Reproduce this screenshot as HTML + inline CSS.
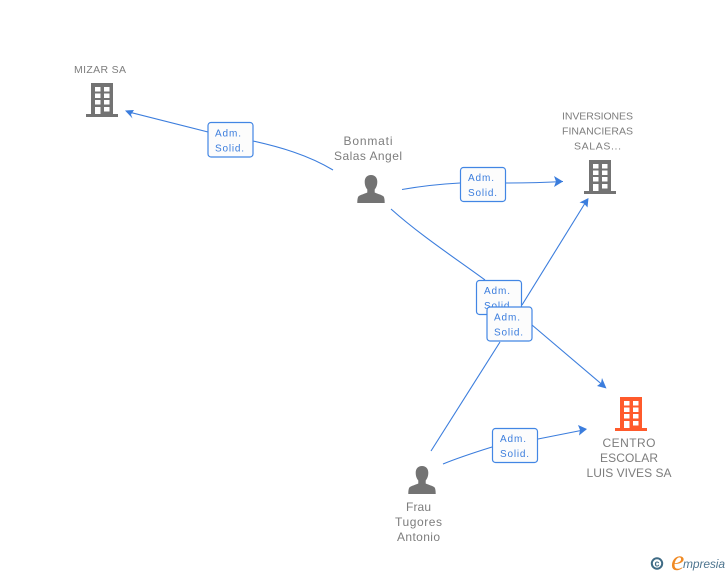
<!DOCTYPE html>
<html>
<head>
<meta charset="utf-8">
<style>
html,body{margin:0;padding:0;background:#fff}
svg{display:block}
text{font-family:"Liberation Sans",sans-serif}
.n{font-size:12px;fill:#7d7d7d;text-anchor:middle}
.s{font-size:10.5px;fill:#7d7d7d;text-anchor:middle}
.l{font-size:10px;fill:#3b7ddd}
.c{fill:none;stroke:#3b7ddd;stroke-width:1.1}
.b{fill:#fcfcfc;stroke:#4286e4;stroke-width:1.2}
</style>
</head>
<body>
<svg width="728" height="575" viewBox="0 0 728 575" xmlns="http://www.w3.org/2000/svg">
<defs>
<symbol id="bw" overflow="visible" viewBox="0 0 32 35" width="32" height="35">
<path fill="#fff" d="M9 4h5.500v4.500H9zM18 4h5.500v4.500H18zM9 10.500h5.500v4.500H9zM18 10.500h5.500v4.500H18zM9 17h5.500v4.500H9zM18 17h5.500v4.500H18zM18 24h5.500v4.500H18zM9 24h5.500v7H9z"/>
</symbol>
<symbol id="person" overflow="visible" viewBox="0 0 28 28" width="28" height="28">
<path fill="#737373" d="M14 0c4 0 6.300 2.700 6.300 6.800 0 3.300-1.100 6-2.600 7.700v3c2.700 1.300 7 2.300 8.700 3.800 1.100 1.100 1.300 4.200 1.300 6.700H.3c0-2.500.2-5.600 1.300-6.700 1.700-1.500 6-2.500 8.700-3.800v-3C8.800 12.800 7.700 10.100 7.700 6.800 7.700 2.700 10 0 14 0z"/>
</symbol>
</defs>

<!-- connectors -->
<path class="c" d="M333 170C308 155 280 147 253 141"/>
<path class="c" d="M208 132L127 111.500"/>
<path class="c" d="M402 189.500C422 186 441 184 460 183"/>
<path class="c" d="M506 183C525 183 545 182.500 563 181.500"/>
<path class="c" d="M391 209C420 235 455 258 485 280"/>
<path class="c" d="M532 325L605 387"/>
<path class="c" d="M431 451L500 342"/>
<path class="c" d="M522 305L587 200"/>
<path class="c" d="M443 464C460 457 476 452 492 447"/>
<path class="c" d="M538 439L586 429.500"/>

<!-- arrowheads -->
<path fill="#3b7ddd" d="M125 110.500L134 110L131 114.500L132.500 118.500z"/>
<path fill="#3b7ddd" d="M563 181.500L554 176L556 181.500L554 187z"/>
<path fill="#3b7ddd" d="M588.500 198L587.500 207.500L584 203.500L579.500 202.500z"/>
<path fill="#3b7ddd" d="M606.500 388.500L597 386L601 383L602 378z"/>
<path fill="#3b7ddd" d="M587 429L578 425L580 430L579 435.500z"/>

<!-- label boxes -->
<rect class="b" x="208" y="122.500" width="45" height="34.500" rx="3"/>
<text class="l" x="215" y="136.500" textLength="26">Adm.</text>
<text class="l" x="215" y="151.500" textLength="29">Solid.</text>

<rect class="b" x="460.500" y="167.500" width="45" height="34" rx="3"/>
<text class="l" x="468" y="181" textLength="26">Adm.</text>
<text class="l" x="468" y="196" textLength="29">Solid.</text>

<rect class="b" x="476.500" y="280.500" width="45" height="34" rx="3"/>
<text class="l" x="484" y="294" textLength="26">Adm.</text>
<text class="l" x="484" y="309" textLength="29">Solid.</text>

<rect class="b" x="487" y="307" width="45" height="34" rx="3"/>
<text class="l" x="494" y="320.500" textLength="26">Adm.</text>
<text class="l" x="494" y="335.500" textLength="29">Solid.</text>

<rect class="b" x="492.500" y="428.500" width="45" height="34" rx="3"/>
<text class="l" x="500" y="442" textLength="26">Adm.</text>
<text class="l" x="500" y="457" textLength="29">Solid.</text>

<!-- MIZAR SA -->
<text class="s" x="100" y="73" textLength="52">MIZAR SA</text>
<path fill="#737373" d="M91 83h22v31h5v3H86v-3h5z"/>
<use href="#bw" x="86" y="83"/>

<!-- INVERSIONES -->
<text class="s" x="597.500" y="119.500" textLength="71">INVERSIONES</text>
<text class="s" x="597.500" y="134.500" textLength="71">FINANCIERAS</text>
<text class="s" x="597.500" y="149.500" textLength="47">SALAS...</text>
<path fill="#737373" d="M589 160h22v31h5v3H584v-3h5z"/>
<use href="#bw" x="584" y="160"/>

<!-- CENTRO -->
<path fill="#ff5a2b" d="M620 397h22v31h5v3H615v-3h5z"/>
<use href="#bw" x="615" y="397"/>
<text class="n" x="629" y="447" textLength="53">CENTRO</text>
<text class="n" x="629" y="462" textLength="58">ESCOLAR</text>
<text class="n" x="629" y="477" textLength="85">LUIS VIVES SA</text>

<!-- Bonmati -->
<text class="n" x="368" y="145" textLength="49">Bonmati</text>
<text class="n" x="368" y="160" textLength="68">Salas Angel</text>
<use href="#person" x="357" y="175"/>

<!-- Frau -->
<use href="#person" x="408" y="466"/>
<text class="n" x="418.500" y="511" textLength="25">Frau</text>
<text class="n" x="418.500" y="526" textLength="47">Tugores</text>
<text class="n" x="418.500" y="541" textLength="43">Antonio</text>

<!-- logo -->
<circle cx="657" cy="563.500" r="5.200" fill="none" stroke="#3f6b85" stroke-width="2"/>
<text x="657" y="566.500" font-size="9" font-weight="bold" fill="#3f6b85" text-anchor="middle">c</text>
<text x="671" y="570" style="font-family:'Liberation Serif',serif;font-style:italic" font-size="30" fill="#f08a24">e</text>
<text x="683" y="568" style="font-style:italic" font-size="12" fill="#4f7690" textLength="42">mpresia</text>
</svg>
</body>
</html>
